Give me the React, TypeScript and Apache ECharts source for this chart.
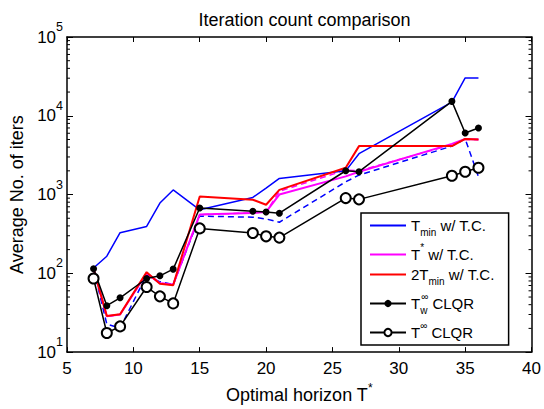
import React, { useEffect, useRef } from 'react';
import * as echarts from 'echarts';

const horizons = [7, 8, 9, 11, 12, 13, 15, 19, 20, 21, 26, 27, 34, 35, 36];
const tminTC = [117, 165, 328, 394, 780, 1145, 640, 920, 1210, 1600, 2000, 3300, 14900, 30200, 30200];
const tstarTC = [114, 28.5, 30, 100, 75, 72, 557, 585, 602, 1000, 1700, 1950, 4400, 5090, 5000];
const twoTminTC = [114, 28.8, 30.2, 103.5, 73.8, 70.5, 946, 859, 743, 1145, 2188, 4120, 4120, 5090, 5000];
const twClqr = [114, 38.8, 48.9, 86, 93, 113, 676, 614, 602, 580, 2005, 1950, 15240, 6050, 6990];
const tinfClqr = [86, 17.5, 21.2, 67, 51, 41.5, 372, 325, 295, 284, 902, 869, 1735, 1947, 2188];
const tminNoTC = [114, 22.6, 20.2, 95, 78, 72, 532, 516, 490, 445, 1450, 1766, 4120, 5090, 1686];
const tstarNoTC = [114, 28.5, 30, 100, 75, 72, 557, 585, 602, 1100, 2050, 2000, 4300, 5000, 5000];
const minorTickValues = [1, 2, 3, 4].flatMap((k) => [2, 3, 4, 5, 6, 7, 8, 9].map((m) => m * Math.pow(10, k)));

const FONT = "'Liberation Sans', Arial, Helvetica, sans-serif";

const legendNames = ['Tmin w/ T.C.', 'T* w/ T.C.', '2Tmin w/ T.C.', 'Tw∞ CLQR', 'T∞ CLQR'];
const legendRich: Record<string, string> = {
  'Tmin w/ T.C.': '{m|T}{sub|min}{m| w/ T.C.}',
  'T* w/ T.C.': '{m|T}{sup|*}{m| w/ T.C.}',
  '2Tmin w/ T.C.': '{m|2T}{sub|min}{m| w/ T.C.}',
  'Tw∞ CLQR': '{m|T}{subz|w}{sup|∞}{m| CLQR}',
  'T∞ CLQR': '{m|T}{sup|∞}{m| CLQR}',
};
const markerless = new Set(['Tmin w/ T.C.', 'T* w/ T.C.', '2Tmin w/ T.C.']);

const pts = (ys: number[]) => horizons.map((x, i) => [x, ys[i]]);

export default function App() {
  const ref = useRef<HTMLDivElement>(null);
  useEffect(() => {
    if (!ref.current) return;
    const chart = echarts.init(ref.current, undefined, { renderer: 'svg' });
    const axisLine = { show: true, lineStyle: { color: '#000', width: 1.5 } };
    const xBase = {
      type: 'value' as const,
      min: 5,
      max: 40,
      interval: 5,
      axisLine,
      axisTick: { show: true, inside: true, length: 5, lineStyle: { color: '#000', width: 1 } },
      splitLine: { show: false },
    };
    const yBase = {
      type: 'log' as const,
      logBase: 10,
      min: 10,
      max: 100000,
      axisLine,
      axisTick: { show: true, inside: true, length: 6, lineStyle: { color: '#000', width: 1 } },
      splitLine: { show: false },
      minorTick: { show: false },
    };
    const option: any = {
      animation: false,
      backgroundColor: '#fff',
      title: {
        text: 'Iteration count comparison',
        left: 299.5,
        textAlign: 'center',
        top: 6,
        textStyle: { fontFamily: FONT, fontSize: 18, fontWeight: 'normal', color: '#000' },
      },
      grid: { left: 67, right: 12, top: 37, bottom: 53, containLabel: false },
      xAxis: [
        {
          ...xBase,
          position: 'bottom',
          axisLabel: { color: '#000', fontFamily: FONT, fontSize: 17, margin: 8 },
          name: '{m|Optimal horizon T}{sup|*}',
          nameLocation: 'middle',
          nameGap: 25,
          nameTextStyle: {
            color: '#000',
            fontFamily: FONT,
            fontSize: 18,
            rich: {
              m: { fontFamily: FONT, fontSize: 18, color: '#000', lineHeight: 26 },
              sup: { fontFamily: FONT, fontSize: 12, color: '#000', verticalAlign: 'top', lineHeight: 12 },
            },
          },
        },
        { ...xBase, position: 'top', axisLabel: { show: false } },
      ],
      yAxis: [
        {
          ...yBase,
          position: 'left',
          axisLabel: {
            color: '#000',
            fontFamily: FONT,
            margin: 4,
            formatter: (v: number) => `{b|10}{e|${Math.round(Math.log10(v))}}`,
            rich: {
              b: { fontFamily: FONT, fontSize: 17, color: '#000', lineHeight: 33 },
              e: { fontFamily: FONT, fontSize: 12.5, color: '#000', verticalAlign: 'top', lineHeight: 13 },
            },
          },
          name: 'Average No. of iters',
          nameLocation: 'middle',
          nameGap: 38,
          nameTextStyle: { color: '#000', fontFamily: FONT, fontSize: 18 },
        },
        { ...yBase, position: 'right', axisLabel: { show: false } },
      ],
      legend: {
        data: legendNames.map((n) =>
          markerless.has(n)
            ? { name: n, itemStyle: { opacity: 0, color: 'rgba(0,0,0,0)', borderWidth: 0 } }
            : { name: n }
        ),
        orient: 'vertical',
        left: 361,
        top: 213,
        padding: [5, 14, 5, 8],
        itemGap: 5,
        itemWidth: 36,
        itemHeight: 9,
        backgroundColor: '#fff',
        borderColor: '#000',
        borderWidth: 1.5,
        borderRadius: 0,
        formatter: (name: string) => legendRich[name] || name,
        textStyle: {
          fontFamily: FONT,
          fontSize: 15,
          color: '#000',
          rich: {
            m: { fontFamily: FONT, fontSize: 15, color: '#000', lineHeight: 24 },
            sub: { fontFamily: FONT, fontSize: 10, color: '#000', verticalAlign: 'bottom', lineHeight: 11 },
            subz: { fontFamily: FONT, fontSize: 10, color: '#000', verticalAlign: 'bottom', lineHeight: 11, width: 1 },
            sup: { fontFamily: FONT, fontSize: 10, color: '#000', verticalAlign: 'top', lineHeight: 11 },
          },
        },
      },
      series: [
        {
          name: 'T* w/o T.C. (dashed)',
          type: 'line',
          data: pts(tstarNoTC),
          symbol: 'none',
          lineStyle: { color: '#ff00ff', width: 1.5, type: [6, 4] },
          z: 2,
        },
        {
          name: 'Tmin w/o T.C. (dashed)',
          type: 'line',
          data: pts(tminNoTC),
          symbol: 'none',
          lineStyle: { color: '#0000ff', width: 1.5, type: [6, 4] },
          z: 2,
        },
        {
          name: 'Tmin w/ T.C.',
          type: 'line',
          data: pts(tminTC),
          symbol: 'none',
          color: '#0000ff',
          lineStyle: { color: '#0000ff', width: 1.5 },
          z: 3,
        },
        {
          name: 'T* w/ T.C.',
          type: 'line',
          data: pts(tstarTC),
          symbol: 'none',
          color: '#ff00ff',
          lineStyle: { color: '#ff00ff', width: 2 },
          z: 3,
        },
        {
          name: '2Tmin w/ T.C.',
          type: 'line',
          data: pts(twoTminTC),
          symbol: 'none',
          color: '#ff0000',
          lineStyle: { color: '#ff0000', width: 2 },
          z: 3,
        },
        {
          name: 'Tw∞ CLQR',
          type: 'line',
          data: pts(twClqr),
          symbol: 'circle',
          symbolSize: 7,
          color: '#000',
          itemStyle: { color: '#000' },
          lineStyle: { color: '#000', width: 1.5 },
          z: 4,
        },
        {
          name: 'T∞ CLQR',
          type: 'line',
          data: pts(tinfClqr),
          symbol: 'emptyCircle',
          symbolSize: 10,
          color: '#000',
          itemStyle: { color: '#000', borderColor: '#000', borderWidth: 1.3 },
          lineStyle: { color: '#000', width: 1.5 },
          z: 4,
        },
        {
          name: 'minorTicks',
          type: 'custom',
          silent: true,
          data: minorTickValues.map((v) => [5, v]),
          renderItem: (_p: any, api: any) => {
            const v = api.value(1);
            const pl = api.coord([5, v]);
            const pr = api.coord([40, v]);
            return {
              type: 'group',
              children: [
                { type: 'line', shape: { x1: pl[0], y1: pl[1], x2: pl[0] + 3, y2: pl[1] }, style: { stroke: '#000', lineWidth: 1 } },
                { type: 'line', shape: { x1: pr[0] - 3, y1: pr[1], x2: pr[0], y2: pr[1] }, style: { stroke: '#000', lineWidth: 1 } },
              ],
            };
          },
          z: 5,
        },
      ],
    };
    chart.setOption(option);
    return () => chart.dispose();
  }, []);
  return <div ref={ref} style={{ position: 'fixed', left: 0, top: 0, width: 544, height: 409 }} />;
}
